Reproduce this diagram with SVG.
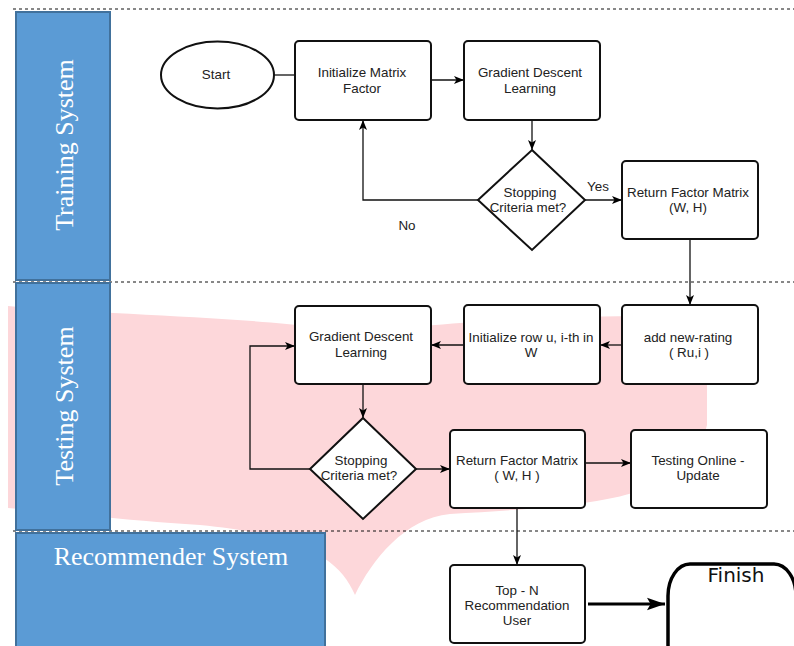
<svg xmlns="http://www.w3.org/2000/svg" width="794" height="646" viewBox="0 0 794 646">
<style>
.lane{fill:#5b9bd5;stroke:#41719c;stroke-width:2}
.lt{font-family:"Liberation Serif","Times New Roman",serif;font-size:26px;fill:#ffffff;text-anchor:middle}
.box{fill:#ffffff;stroke:#111;stroke-width:2}
.t{font-family:"Liberation Sans",Arial,sans-serif;font-size:13.4px;fill:#222;text-anchor:middle}
.c{fill:none;stroke:#111;stroke-width:1.3}
.dash{stroke:#111;stroke-width:1;stroke-dasharray:3 3}
</style>
<defs>
<marker id="arr" viewBox="0 0 10 10" refX="10" refY="5" markerWidth="10" markerHeight="10" orient="auto" markerUnits="userSpaceOnUse"><path d="M0,1 L10,5 L0,9 L2.5,5 z" fill="#000"/></marker>
<marker id="arrB" viewBox="0 0 10 10" refX="10" refY="5" markerWidth="18" markerHeight="18" orient="auto" markerUnits="userSpaceOnUse"><path d="M0,1.5 L10,5 L0,8.5 L2,5 z" fill="#000"/></marker>
</defs>
<rect width="794" height="646" fill="#ffffff"/>
<path id="watermark" d="M8 306 C120 316 300 318 360 335 C420 322 600 312 707 318 L707 425 C690 500 600 505 450 514 C405 518 372 560 355 595 C340 560 305 535 200 525 C120 520 60 512 8 508 Z" fill="#fdd7da"/>
<g id="dividers">
<line class="dash" x1="13" y1="9" x2="794" y2="9"/>
<line class="dash" x1="13" y1="282" x2="794" y2="282"/>
<line class="dash" x1="13" y1="531" x2="794" y2="531"/>
</g>
<g id="lane-training">
<rect class="lane" x="16" y="12" width="94" height="268"/>
<text class="lt" transform="translate(73,145) rotate(-90)">Training System</text>
</g>
<g id="lane-testing">
<rect class="lane" x="16" y="283" width="94" height="247"/>
<text class="lt" transform="translate(73,406) rotate(-90)">Testing System</text>
</g>
<g id="lane-recommender">
<rect class="lane" x="16" y="533" width="309" height="120"/>
<text class="lt" x="171" y="565">Recommender System</text>
</g>
<g id="connectors">
<line class="c" x1="274" y1="75" x2="295" y2="75"/>
<line class="c" x1="431" y1="80" x2="464" y2="80" marker-end="url(#arr)"/>
<line class="c" x1="532" y1="120" x2="532" y2="150" marker-end="url(#arr)"/>
<line class="c" x1="585" y1="200" x2="622" y2="200" marker-end="url(#arr)"/>
<polyline class="c" points="478,200 363,200 363,120" marker-end="url(#arr)"/>
<line class="c" x1="690" y1="239" x2="690" y2="305" marker-end="url(#arr)"/>
<line class="c" x1="622" y1="345" x2="600" y2="345" marker-end="url(#arr)"/>
<line class="c" x1="464" y1="345" x2="431" y2="345" marker-end="url(#arr)"/>
<line class="c" x1="363" y1="384" x2="363" y2="418" marker-end="url(#arr)"/>
<polyline class="c" points="310,469 250,469 250,346 295,346" marker-end="url(#arr)"/>
<line class="c" x1="416" y1="469" x2="450" y2="469" marker-end="url(#arr)"/>
<line class="c" x1="585" y1="463" x2="631" y2="463" marker-end="url(#arr)"/>
<line class="c" x1="517" y1="508" x2="517" y2="565" marker-end="url(#arr)"/>
<line fill="none" stroke="#000" stroke-width="3" x1="588" y1="604" x2="665" y2="604" marker-end="url(#arrB)"/>
<text class="t" x="598" y="191">Yes</text>
<text class="t" x="407" y="230">No</text>
</g>
<g id="start">
<ellipse class="box" cx="217.5" cy="75" rx="56.5" ry="33.5"/>
<text class="t" x="216" y="79">Start</text>
</g>
<g id="init-matrix">
<rect class="box" x="295" y="41" width="136" height="79" rx="4"/>
<text class="t" x="362" y="77">Initialize Matrix</text>
<text class="t" x="362" y="93">Factor</text>
</g>
<g id="gdl-train">
<rect class="box" x="464" y="41" width="136" height="79" rx="4"/>
<text class="t" x="530" y="77">Gradient Descent</text>
<text class="t" x="530" y="93">Learning</text>
</g>
<g id="stop-train">
<polygon class="box" points="532,150 585,200 532,250 478,200"/>
<text class="t" x="530" y="197">Stopping</text>
<text class="t" x="528" y="212">Criteria met?</text>
</g>
<g id="return-train">
<rect class="box" x="622" y="161" width="136" height="78" rx="4"/>
<text class="t" x="688" y="197">Return Factor Matrix</text>
<text class="t" x="688" y="212">(W, H)</text>
</g>
<g id="add-rating">
<rect class="box" x="622" y="305" width="136" height="79" rx="4"/>
<text class="t" x="688" y="342">add new-rating</text>
<text class="t" x="689" y="357">( Ru,i )</text>
</g>
<g id="init-row">
<rect class="box" x="464" y="305" width="136" height="79" rx="4"/>
<text class="t" x="531" y="342">Initialize row u, i-th in</text>
<text class="t" x="531" y="357">W</text>
</g>
<g id="gdl-test">
<rect class="box" x="295" y="306" width="136" height="78" rx="4"/>
<text class="t" x="361" y="341">Gradient Descent</text>
<text class="t" x="361" y="357">Learning</text>
</g>
<g id="stop-test">
<polygon class="box" points="363,418 416,469 363,519 310,469"/>
<text class="t" x="361" y="465">Stopping</text>
<text class="t" x="359" y="480">Criteria met?</text>
</g>
<g id="return-test">
<rect class="box" x="450" y="430" width="135" height="78" rx="4"/>
<text class="t" x="517" y="465">Return Factor Matrix</text>
<text class="t" x="517" y="480">( W, H )</text>
</g>
<g id="testing-online">
<rect class="box" x="631" y="430" width="136" height="78" rx="4"/>
<text class="t" x="698" y="465">Testing Online -</text>
<text class="t" x="698" y="480">Update</text>
</g>
<g id="top-n">
<rect class="box" x="450" y="565" width="135" height="78" rx="4"/>
<text class="t" x="517" y="595">Top - N</text>
<text class="t" x="517" y="610">Recommendation</text>
<text class="t" x="517" y="625">User</text>
</g>
<g id="finish">
<rect x="668" y="564" width="128" height="120" rx="22" ry="32" fill="#ffffff" stroke="#000" stroke-width="3.5"/>
<text x="736" y="582" font-family="DejaVu Sans,sans-serif" font-size="20" fill="#111" text-anchor="middle">Finish</text>
</g>
</svg>
